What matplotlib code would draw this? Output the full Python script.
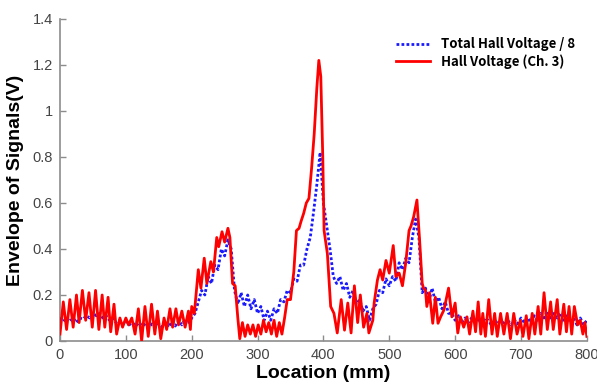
import numpy as np
import matplotlib
matplotlib.use("Agg")
import matplotlib.pyplot as plt

# Hall voltage (channel 3) envelope
red_x = [0, 5, 10, 15, 20, 25, 29, 34, 39, 44, 49, 54, 59, 64, 68, 73, 77, 82, 86, 91,
         95, 100, 104, 109, 114, 119, 124, 129, 134, 139, 144, 148, 153, 158, 162, 167, 171, 176, 180, 185,
         190, 195, 198, 200, 204, 210, 214, 219, 223, 229, 233, 238, 241, 246, 250, 255, 258, 262, 266, 270,
         273, 277, 281, 285, 289, 293, 297, 301, 305, 309, 313, 317, 321, 325, 329, 333, 337, 341, 345, 350,
         355, 359, 363, 366, 370, 374, 378, 382, 386, 390, 393, 396, 399, 401, 406, 411, 416, 421, 427, 432,
         437, 442, 447, 452, 456, 461, 466, 469, 475, 477, 482, 486, 490, 495, 500, 506, 510, 515, 520, 525,
         530, 533, 537, 542, 546, 550, 552, 555, 557, 561, 566, 570, 574, 578, 583, 590, 595, 600, 604, 608,
         613, 618, 622, 627, 631, 635, 639, 642, 646, 651, 656, 660, 664, 669, 674, 679, 684, 689, 694, 699,
         703, 708, 712, 717, 721, 726, 730, 735, 740, 745, 749, 755, 759, 765, 769, 773, 777, 781, 786, 790,
         794, 797, 800]
red_y = [0.03, 0.17, 0.05, 0.18, 0.06, 0.20, 0.08, 0.22, 0.09, 0.21, 0.06, 0.22, 0.05, 0.20, 0.06, 0.19, 0.04, 0.16, 0.03, 0.10,
         0.06, 0.10, 0.07, 0.10, 0.03, 0.14, 0.00, 0.15, 0.02, 0.16, 0.03, 0.13, 0.01, 0.10, 0.05, 0.14, 0.06, 0.14, 0.07, 0.13,
         0.06, 0.13, 0.05, 0.15, 0.12, 0.31, 0.23, 0.36, 0.25, 0.345, 0.30, 0.45, 0.41, 0.475, 0.43, 0.49, 0.45, 0.25, 0.24, 0.10,
         0.01, 0.08, 0.02, 0.07, 0.03, 0.07, 0.02, 0.07, 0.03, 0.09, 0.04, 0.08, 0.03, 0.09, 0.02, 0.08, 0.03, 0.10, 0.18, 0.18,
         0.30, 0.48, 0.49, 0.52, 0.555, 0.60, 0.62, 0.75, 0.90, 1.10, 1.22, 1.15, 0.80, 0.48, 0.38, 0.15, 0.12, 0.035, 0.18, 0.047,
         0.165, 0.035, 0.24, 0.08, 0.20, 0.06, 0.12, 0.035, 0.09, 0.165, 0.265, 0.31, 0.265, 0.35, 0.295, 0.415, 0.28, 0.295, 0.24, 0.34,
         0.48, 0.50, 0.54, 0.613, 0.44, 0.25, 0.23, 0.22, 0.15, 0.21, 0.077, 0.19, 0.077, 0.105, 0.135, 0.23, 0.105, 0.165, 0.035, 0.105,
         0.06, 0.105, 0.03, 0.13, 0.04, 0.17, 0.03, 0.12, 0.02, 0.18, 0.03, 0.12, 0.02, 0.12, 0.03, 0.12, 0.01, 0.12, 0.03, 0.09,
         0.02, 0.11, 0.01, 0.12, 0.03, 0.15, 0.03, 0.21, 0.05, 0.17, 0.05, 0.18, 0.03, 0.16, 0.04, 0.15, 0.03, 0.15, 0.07, 0.09,
         0.03, 0.08, 0.02]

# Total Hall voltage / 8, sampled every 5 mm
blue_x = list(range(0, 805, 5))
blue_y = [0.10, 0.085, 0.10, 0.085, 0.10, 0.08, 0.10, 0.095, 0.11, 0.10,
          0.12, 0.11, 0.12, 0.10, 0.11, 0.09, 0.10, 0.08, 0.09, 0.07,
          0.085, 0.07, 0.08, 0.065, 0.08, 0.065, 0.075, 0.06, 0.075, 0.06,
          0.075, 0.06, 0.08, 0.06, 0.085, 0.065, 0.09, 0.07, 0.095, 0.075,
          0.10, 0.12, 0.17, 0.22, 0.20, 0.28, 0.25, 0.33, 0.31, 0.40,
          0.37, 0.44, 0.40, 0.22, 0.16, 0.21, 0.15, 0.20, 0.14, 0.18,
          0.12, 0.15, 0.09, 0.13, 0.09, 0.14, 0.12, 0.18, 0.17, 0.22,
          0.21, 0.27, 0.26, 0.33, 0.33, 0.40, 0.45, 0.56, 0.68, 0.82,
          0.60, 0.50, 0.40, 0.28, 0.25, 0.28, 0.22, 0.25, 0.19, 0.22,
          0.16, 0.18, 0.13, 0.15, 0.09, 0.14, 0.16, 0.22, 0.21, 0.27,
          0.24, 0.28, 0.26, 0.34, 0.31, 0.36, 0.34, 0.45, 0.53, 0.45,
          0.21, 0.23, 0.17, 0.23, 0.17, 0.19, 0.14, 0.17, 0.12, 0.12,
          0.09, 0.11, 0.08, 0.10, 0.08, 0.10, 0.08, 0.10, 0.07, 0.10,
          0.09, 0.07, 0.09, 0.075, 0.09, 0.07, 0.09, 0.07, 0.09, 0.075,
          0.10, 0.08, 0.10, 0.08, 0.11, 0.09, 0.12, 0.10, 0.13, 0.10,
          0.12, 0.10, 0.12, 0.09, 0.11, 0.08, 0.10, 0.07, 0.10, 0.07,
          0.09]

x_ticks = [0, 100, 200, 300, 400, 500, 600, 700, 800]
y_ticks = [0, 0.2, 0.4, 0.6, 0.8, 1.0, 1.2, 1.4]
y_tick_labels = ["0", "0.2", "0.4", "0.6", "0.8", "1", "1.2", "1.4"]

plt.rcParams['font.family'] = ['Liberation Sans', 'DejaVu Sans']

fig = plt.figure(figsize=(5.97, 3.86), dpi=100)
ax = fig.add_axes([0.1005, 0.1166, 0.8825, 0.8342])

ax.plot(blue_x, blue_y, color='#1a1aff', linestyle=(0, (1, 0.8)), linewidth=2.0,
        label='Total Hall Voltage / 8', zorder=3)
ax.plot(red_x, red_y, color='#ff0000', linewidth=2.0,
        label='Hall Voltage (Ch. 3)', zorder=4)

ax.set_xlim(0, 800)
ax.set_ylim(0, 1.4)
ax.set_xticks(x_ticks)
ax.set_yticks(y_ticks)
ax.set_yticklabels(y_tick_labels)

for side in ['top', 'right']:
    ax.spines[side].set_visible(False)
for side in ['bottom', 'left']:
    ax.spines[side].set_color('#8c8c8c')
    ax.spines[side].set_linewidth(1.2)
ax.tick_params(direction='in', length=4, width=1, color='#8c8c8c',
               labelcolor='#444444', labelsize=10.5, pad=5)

ax.set_xlabel('Location (mm)', fontsize=14, fontweight='bold', labelpad=2)
ax.set_ylabel('Envelope of Signals(V)', fontsize=14, fontweight='bold', labelpad=6)

leg = ax.legend(loc='upper right', bbox_to_anchor=(1.0, 0.98), frameon=False,
                handlelength=2.6, labelspacing=0.2,
                prop={'family': ['Noto Sans CJK KR', 'DejaVu Sans'], 'weight': 'bold', 'size': 9.5})

fig.savefig('out.png', dpi=100)
